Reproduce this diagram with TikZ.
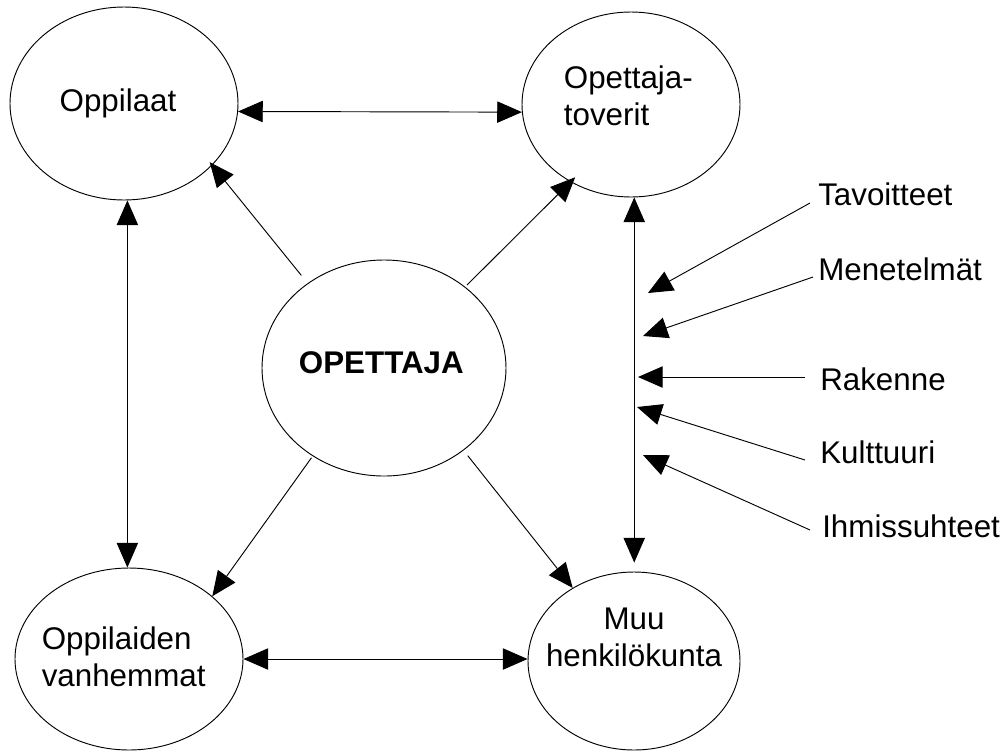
\documentclass[tikz,border=0pt]{standalone}
\usepackage{fontspec}
\setmainfont{Liberation Sans}
\usetikzlibrary{arrows.meta,shapes.geometric,calc}
\begin{document}
\begin{tikzpicture}[x=0.75pt,y=-0.75pt,
  ell/.style={ellipse, draw, line width=0.7pt, inner sep=0pt},
  txt/.style={font=\fontsize{23.5}{27.75}\selectfont, inner sep=0pt},
  txtb/.style={font=\fontsize{23.5}{27.75}\selectfont\bfseries, inner sep=0pt},
  tip/.tip={Triangle[length=18.5pt,width=16pt]},
  con/.style={line width=0.7pt, -tip},
  dbl/.style={line width=0.7pt, tip-tip}]
\useasboundingbox (0,0) rectangle (1007,751);

% ellipses
\node[ell, minimum width=171pt, minimum height=144.75pt,
  label={[txt, xshift=-4.5pt]center:Oppilaat}] (A) at (124,103.5) {};
\node[ell, minimum width=163.5pt, minimum height=138.75pt,
  label={[txt, align=left, xshift=-2pt, yshift=6.4pt]center:Opettaja-\\toverit}] (B) at (631,104.5) {};
\node[ell, minimum width=183pt, minimum height=162pt,
  label={[txtb, xshift=-2pt, yshift=3.75pt]center:OPETTAJA}] (C) at (384,368) {};
\node[ell, minimum width=171pt, minimum height=136.5pt,
  label={[txt, align=left, xshift=-4pt, yshift=2pt]center:Oppilaiden\\vanhemmat}] (D) at (129,659) {};
\node[ell, minimum width=159pt, minimum height=133.5pt,
  label={[txt, align=center, yshift=18pt]center:Muu\\henkilökunta}] (E) at (634,661) {};

% double arrows between outer nodes
\draw[dbl] (A.-4.3) -- (B.184);
\draw[dbl] (D.east) -- (D.east -| E.west);
\draw[dbl] (A.-88) -- (A.-88 |- D.north);
\draw[dbl, shorten >=6.75pt] (B.-88) -- (B.-88 |- E.north);

% arrows from OPETTAJA
\draw[con, shorten <=7.5pt, shorten >=-3pt] (C.132.7) -- (A.-35.3);
\draw[con, shorten <=2pt, shorten >=-5pt] (C.45) -- (B.232.5);
\draw[con, shorten <=1.5pt] (C.231.7) -- (D.37.1);
\draw[con, shorten <=5pt] (C.-46.7) -- (E.130.5);

% side factors
\node[txt, anchor=base west] (t1) at (818,205) {Tavoitteet};
\node[txt, anchor=base west] (t2) at (818,280) {Menetelmät};
\node[txt, anchor=base west] (t3) at (820,390) {Rakenne};
\node[txt, anchor=base west] (t4) at (820,463) {Kulttuuri};
\node[txt, anchor=base west] (t5) at (822,537) {Ihmissuhteet};

\coordinate (p1) at (648,293);
\coordinate (p2) at (643,336);
\coordinate (p3) at (638,377);
\coordinate (p4) at (637,407);
\coordinate (p5) at (643,455);

\draw[con] ($(t1.base west)+(-8,-2)$) -- (p1);
\draw[con] ($(t2.base west)+(-5,-3)$) -- (p2);
\draw[con] ($(t3.base west)+(-15,-13)$) -- (p3);
\draw[con] ($(t4.base west)+(-15,-3)$) -- (p4);
\draw[con] ($(t5.base west)+(-12,-7)$) -- (p5);
\end{tikzpicture}
\end{document}
